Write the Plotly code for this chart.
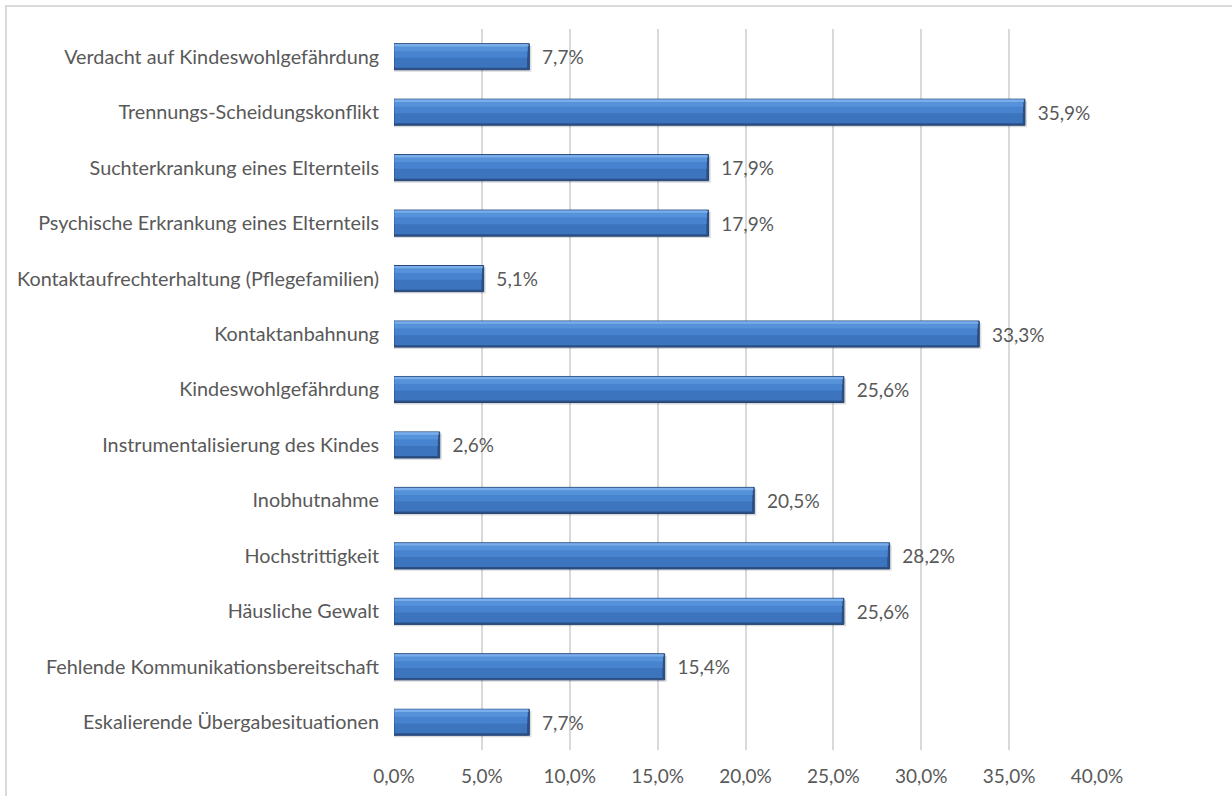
import plotly.graph_objects as go

# Categories listed bottom to top
categories = [
    "Eskalierende Übergabesituationen",
    "Fehlende Kommunikationsbereitschaft",
    "Häusliche Gewalt",
    "Hochstrittigkeit",
    "Inobhutnahme",
    "Instrumentalisierung des Kindes",
    "Kindeswohlgefährdung",
    "Kontaktanbahnung",
    "Kontaktaufrechterhaltung (Pflegefamilien)",
    "Psychische Erkrankung eines Elternteils",
    "Suchterkrankung eines Elternteils",
    "Trennungs-Scheidungskonflikt",
    "Verdacht auf Kindeswohlgefährdung",
]
shares = [7.7, 15.4, 25.6, 28.2, 20.5, 2.6, 25.6, 33.3, 5.1, 17.9, 17.9, 35.9, 7.7]
tick_values = [0, 5, 10, 15, 20, 25, 30, 35, 40]
tick_labels = [f"{v:.1f}%".replace(".", ",") for v in tick_values]

FONT = "Lato"
TEXT_GREY = "#595959"
FS = 19
W, H = 1232, 796
ML, MR, MT, MB = 394, 135, 29, 46

fig = go.Figure()

bw = 0.47
half = bw / 2
# soft drop shadow
fig.add_trace(go.Bar(
    x=[v + 0.12 for v in shares], y=categories, orientation="h",
    width=bw, offset=-half - 0.035,
    marker=dict(color="rgba(0,0,0,0.14)", line=dict(width=0)),
    hoverinfo="skip", showlegend=False,
))
# dark bevel body carrying the value labels
fig.add_trace(go.Bar(
    x=shares, y=categories, orientation="h",
    width=bw, offset=-half,
    marker=dict(color="#2B5088", line=dict(color="#244677", width=1)),
    texttemplate="\u00a0\u00a0%{x:.1f}%", textposition="outside",
    textfont=dict(family=FONT, size=FS, color=TEXT_GREY),
    cliponaxis=False, hoverinfo="skip", showlegend=False,
))

# gradient face: (lower edge, upper edge, colour, trim at the right end)
face_bands = [
    (-0.20, 0.225, "#3C74BE", 0.16),
    (-0.02, 0.225, "#4783CF", 0.14),
    (0.10, 0.225, "#5692DA", 0.12),
    (0.185, 0.228, "#7AAEEA", 0.08),
]
for lo, hi, col, trim in face_bands:
    fig.add_trace(go.Bar(
        x=[v - trim for v in shares], y=categories, orientation="h",
        width=hi - lo, offset=lo, base=0.03,
        marker=dict(color=col, line=dict(width=0)),
        hoverinfo="skip", showlegend=False,
    ))

pw = W - ML - MR
ph = H - MT - MB
fig.add_shape(
    type="rect", xref="paper", yref="paper",
    x0=(6 - ML) / pw, x1=(W + 20 - ML) / pw,
    y0=-(MB + 20) / ph, y1=(H - 6 - MB) / ph,
    line=dict(color="#D9D9D9", width=2), fillcolor="rgba(0,0,0,0)", layer="below",
)

fig.update_layout(
    width=W, height=H,
    margin=dict(l=ML, r=MR, t=MT, b=MB, autoexpand=False),
    paper_bgcolor="white", plot_bgcolor="white",
    barmode="overlay",
    separators=",.",
    font=dict(family=FONT, size=FS, color=TEXT_GREY),
    xaxis=dict(
        range=[0, 40], tickvals=tick_values, ticktext=tick_labels,
        showgrid=True, gridcolor="#D9D9D9", gridwidth=1.5,
        zeroline=False, showline=False, ticks="",
        ticklabelstandoff=13, automargin=False,
        tickfont=dict(family=FONT, size=FS, color=TEXT_GREY),
    ),
    yaxis=dict(
        type="category", categoryorder="array", categoryarray=categories,
        range=[-0.5, len(categories) - 0.5],
        showgrid=False, zeroline=False, showline=False, ticks="",
        ticklabelstandoff=14, automargin=False,
        tickfont=dict(family=FONT, size=19.8, color=TEXT_GREY),
    ),
)

fig.write_html("out.html")
